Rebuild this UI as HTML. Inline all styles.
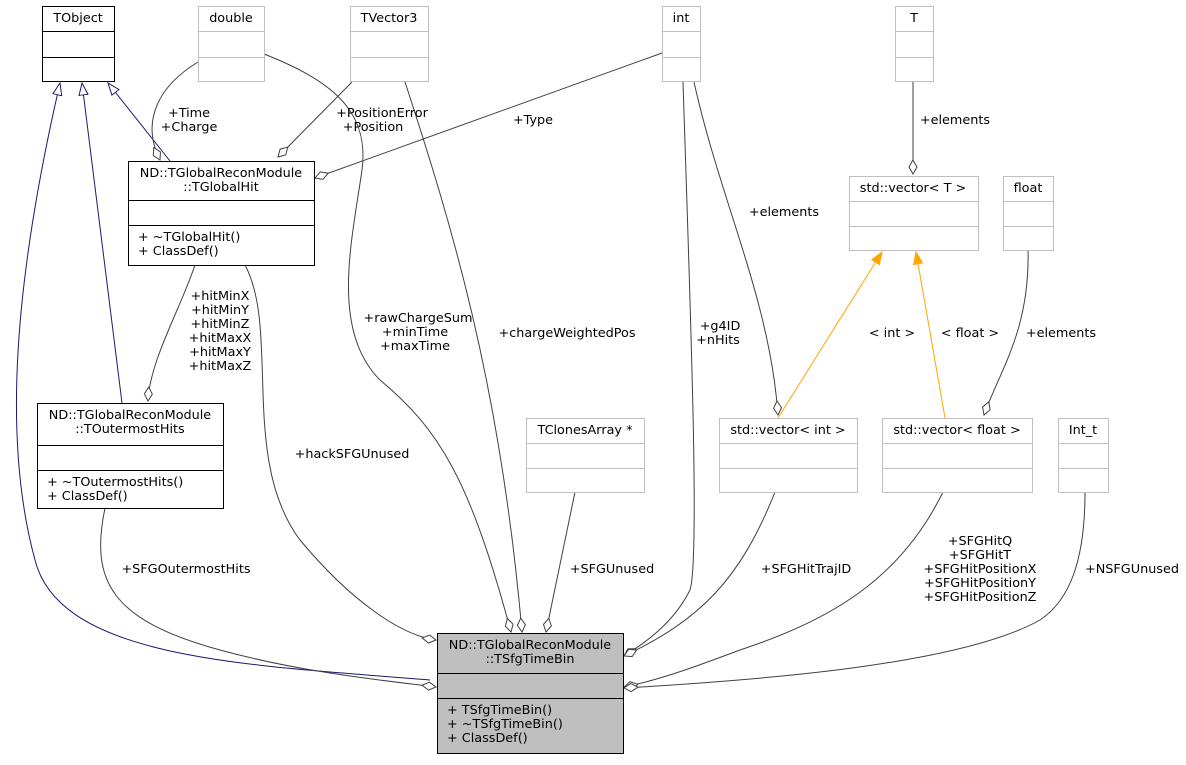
<!DOCTYPE html>
<html><head><meta charset="utf-8"><style>
html,body{margin:0;padding:0;background:#fff}
svg text{font-family:"DejaVu Sans","Liberation Sans",sans-serif;font-size:12.8px;fill:#000}
</style></head><body>
<svg width="1186" height="760" viewBox="0 0 1186 760" xmlns="http://www.w3.org/2000/svg">
<defs>
<marker id="dia" markerWidth="16" markerHeight="10" refX="14.5" refY="5" orient="auto" markerUnits="userSpaceOnUse">
<path d="M0.5,5 L7.5,1 L14.5,5 L7.5,9 Z" fill="#fff" stroke="#404040" stroke-width="1"/></marker>
<marker id="tri" markerWidth="14" markerHeight="12" refX="12.5" refY="6" orient="auto" markerUnits="userSpaceOnUse">
<path d="M0.5,1.5 L12.5,6 L0.5,10.5 Z" fill="#fff" stroke="#191970" stroke-width="1"/></marker>
<marker id="otri" markerWidth="14" markerHeight="12" refX="12.5" refY="6" orient="auto" markerUnits="userSpaceOnUse">
<path d="M0.5,1.5 L12.5,6 L0.5,10.5 Z" fill="orange" stroke="orange" stroke-width="1"/></marker>
</defs>
<g fill="none" stroke-width="1">
<path d="M430,680 C250,665 60,660 35,560 C5,450 10,300 60,83" stroke="#191970" marker-end="url(#tri)"/>
<path d="M122,403 L82,83" stroke="#191970" marker-end="url(#tri)"/>
<path d="M170,161 L108,83" stroke="#191970" marker-end="url(#tri)"/>
<path d="M778,418 L882,252" stroke="orange" marker-end="url(#otri)"/>
<path d="M945,418 L916,252" stroke="orange" marker-end="url(#otri)"/>
<g stroke="#404040">
<path d="M198,62 C160,85 140,120 160,160" marker-end="url(#dia)"/>
<path d="M264,54 C330,80 370,110 362,170 C352,240 330,330 380,380 C440,430 470,480 511,632" marker-end="url(#dia)"/>
<path d="M352,82 L278,157" marker-end="url(#dia)"/>
<path d="M405,82 C450,220 500,380 522,632" marker-end="url(#dia)"/>
<path d="M662,53 L315,178" marker-end="url(#dia)"/>
<path d="M683,82 C690,300 700,560 690,590 C675,620 650,640 624,656" marker-end="url(#dia)"/>
<path d="M694,82 C720,200 770,300 778,415" marker-end="url(#dia)"/>
<path d="M913,82 L913,174" marker-end="url(#dia)"/>
<path d="M1028,250 C1030,330 1000,370 984,415" marker-end="url(#dia)"/>
<path d="M195,265 C180,310 150,360 148,401" marker-end="url(#dia)"/>
<path d="M245,265 C280,330 240,460 300,540 C350,600 400,635 436,640" marker-end="url(#dia)"/>
<path d="M105,508 C90,580 110,620 220,650 C300,672 380,680 436,687" marker-end="url(#dia)"/>
<path d="M575,492 L546,632" marker-end="url(#dia)"/>
<path d="M775,492 C740,580 700,620 624,656" marker-end="url(#dia)"/>
<path d="M943,492 C900,580 830,620 740,650 C700,665 660,680 624,687" marker-end="url(#dia)"/>
<path d="M1085,492 C1085,560 1070,600 1040,620 C960,665 760,680 624,688" marker-end="url(#dia)"/>
</g>
</g>
<g stroke-width="1" fill="#fff">
<g stroke="#000"><rect x="42.5" y="6.5" width="72" height="75"/><path d="M42.5,31.5H114.5M42.5,57.5H114.5"/></g>
<g stroke="#bfbfbf">
<rect x="198.5" y="6.5" width="66" height="75"/><path d="M198.5,31.5H264.5M198.5,57.5H264.5"/>
<rect x="350.5" y="6.5" width="78" height="75"/><path d="M350.5,31.5H428.5M350.5,57.5H428.5"/>
<rect x="662.5" y="6.5" width="38" height="75"/><path d="M662.5,31.5H700.5M662.5,57.5H700.5"/>
<rect x="895.5" y="6.5" width="38" height="75"/><path d="M895.5,31.5H933.5M895.5,57.5H933.5"/>
<rect x="849.5" y="176.5" width="129" height="74"/><path d="M849.5,201.5H978.5M849.5,226.5H978.5"/>
<rect x="1003.5" y="176.5" width="50" height="74"/><path d="M1003.5,201.5H1053.5M1003.5,226.5H1053.5"/>
<rect x="526.5" y="418.5" width="118" height="74"/><path d="M526.5,443.5H644.5M526.5,468.5H644.5"/>
<rect x="719.5" y="418.5" width="138" height="74"/><path d="M719.5,443.5H857.5M719.5,468.5H857.5"/>
<rect x="882.5" y="418.5" width="150" height="74"/><path d="M882.5,443.5H1032.5M882.5,468.5H1032.5"/>
<rect x="1058.5" y="418.5" width="50" height="74"/><path d="M1058.5,443.5H1108.5M1058.5,468.5H1108.5"/>
</g>
<g stroke="#000">
<rect x="128.5" y="161.5" width="186" height="104"/><path d="M128.5,200.5H314.5M128.5,225.5H314.5"/>
<rect x="37.5" y="403.5" width="186" height="105"/><path d="M37.5,445.5H223.5M37.5,470.5H223.5"/>
<rect x="437.5" y="633.5" width="186" height="120" fill="#bfbfbf"/><path d="M437.5,673.5H623.5M437.5,698.5H623.5"/>
</g>
</g>
<g text-anchor="middle">
<text x="78" y="22">TObject</text>
<text x="231" y="22">double</text>
<text x="389" y="22">TVector3</text>
<text x="681" y="22">int</text>
<text x="914" y="22">T</text>
<text x="913" y="192">std::vector&lt; T &gt;</text>
<text x="1028" y="192">float</text>
<text x="585" y="434">TClonesArray *</text>
<text x="788" y="434">std::vector&lt; int &gt;</text>
<text x="957" y="434">std::vector&lt; float &gt;</text>
<text x="1083" y="434">Int_t</text>
<text x="221" y="177">ND::TGlobalReconModule</text>
<text x="221" y="191">::TGlobalHit</text>
<text x="130" y="419">ND::TGlobalReconModule</text>
<text x="130" y="433">::TOutermostHits</text>
<text x="530" y="649">ND::TGlobalReconModule</text>
<text x="530" y="663">::TSfgTimeBin</text>
</g>
<text x="138" y="241">+ ~TGlobalHit()</text>
<text x="138" y="255">+ ClassDef()</text>
<text x="47" y="486">+ ~TOutermostHits()</text>
<text x="47" y="500">+ ClassDef()</text>
<text x="447" y="714">+ TSfgTimeBin()</text>
<text x="447" y="728">+ ~TSfgTimeBin()</text>
<text x="447" y="742">+ ClassDef()</text>
<g text-anchor="middle">
<text x="189" y="117">+Time</text><text x="189" y="131">+Charge</text>
<text x="382" y="117">+PositionError</text><text x="373" y="131">+Position</text>
<text x="533" y="124">+Type</text>
<text x="955" y="124">+elements</text>
<text x="784" y="216">+elements</text>
<text x="220" y="300">+hitMinX</text><text x="220" y="314">+hitMinY</text><text x="220" y="328">+hitMinZ</text>
<text x="220" y="342">+hitMaxX</text><text x="220" y="356">+hitMaxY</text><text x="220" y="370">+hitMaxZ</text>
<text x="418" y="322">+rawChargeSum</text><text x="415" y="336">+minTime</text><text x="415" y="350">+maxTime</text>
<text x="567" y="337">+chargeWeightedPos</text>
<text x="720" y="330">+g4ID</text><text x="718" y="344">+nHits</text>
<text x="892" y="337">&lt; int &gt;</text>
<text x="970" y="337">&lt; float &gt;</text>
<text x="1061" y="337">+elements</text>
<text x="352" y="458">+hackSFGUnused</text>
<text x="186" y="573">+SFGOutermostHits</text>
<text x="612" y="573">+SFGUnused</text>
<text x="806" y="573">+SFGHitTrajID</text>
<text x="980" y="545">+SFGHitQ</text><text x="980" y="559">+SFGHitT</text>
<text x="980" y="573">+SFGHitPositionX</text><text x="980" y="587">+SFGHitPositionY</text><text x="980" y="601">+SFGHitPositionZ</text>
<text x="1132" y="573">+NSFGUnused</text>
</g>
</svg>
</body></html>
